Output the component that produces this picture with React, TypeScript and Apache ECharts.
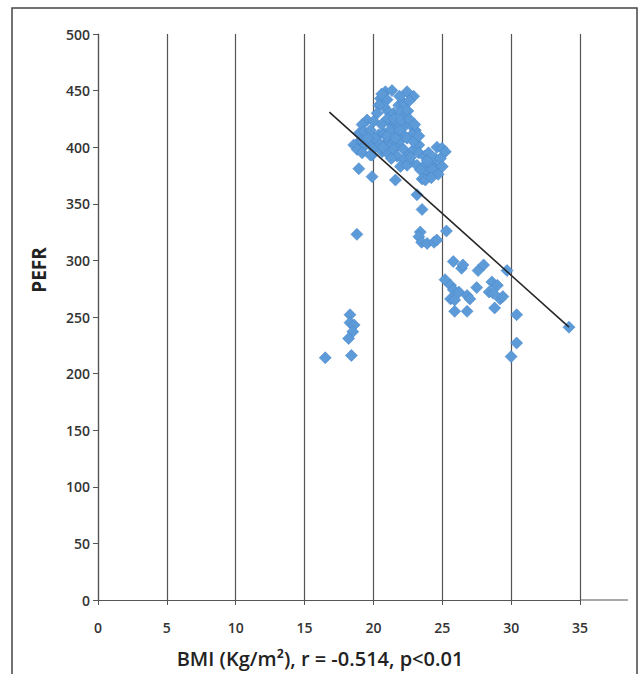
import React, { useEffect, useRef } from "react";
import * as echarts from "echarts";

// BMI (x) and PEFR (y)
const bmi = [
  20.87, 21.35, 22.44, 22.92, 20.51, 20.99, 20.75, 20.39, 21.84, 22.2,
  20.27, 21.11, 21.47, 21.96, 22.32, 19.54, 19.18, 20.02, 18.94, 19.3,
  19.78, 20.39, 20.75, 21.35, 21.72, 21.6, 22.2, 22.68, 23.04, 22.8,
  22.08, 18.82, 19.18, 19.42, 19.78, 20.02, 19.9, 20.99, 21.35, 21.72,
  21.96, 22.44, 20.63, 20.99, 21.47, 22.2, 22.56, 22.92, 23.29, 21.72,
  22.2, 22.68, 23.16, 23.65, 24.13, 24.49, 24.61, 24.98, 25.22, 24.49,
  23.89, 24.25, 23.41, 23.53, 23.77, 18.57, 18.82, 19.18, 19.78, 18.94,
  19.9, 21.6, 23.16, 24.86, 24.86, 21.96, 22.44,
  21.0, 21.5, 22.5, 20.6, 21.2, 22.0, 22.6, 21.9, 20.4, 21.0,
  21.6, 22.9, 23.3, 23.7, 24.0, 23.9, 22.7, 21.3, 20.7, 20.1,
  19.6, 21.9, 22.6, 20.6, 23.0, 23.3, 24.3, 24.7, 25.0, 24.2,
  23.53, 18.8, 23.4, 23.3, 23.5, 23.9, 24.4, 24.6, 25.3, 25.8,
  26.4, 26.5, 27.6, 28.0, 29.7, 25.2, 25.6, 25.8, 25.6, 26.2,
  26.8, 27.0, 25.9, 27.5, 28.6, 29.0, 28.4, 28.7, 29.2, 29.4,
  28.8, 25.9, 26.8, 30.4, 30.4, 30.0, 34.2, 18.3, 18.3, 18.6,
  18.5, 18.2, 18.4, 16.5,
];
const pefr = [
  449, 450, 449, 445, 443, 442, 436, 437, 437, 439,
  430, 431, 430, 431, 427, 424, 420, 423, 412, 414,
  415, 411, 412, 420, 421, 414, 418, 420, 415, 411,
  412, 403, 405, 402, 403, 399, 393, 405, 402, 403,
  406, 408, 396, 395, 398, 398, 393, 398, 402, 392,
  389, 387, 384, 383, 386, 390, 400, 399, 396, 381,
  378, 375, 380, 372, 371, 402, 398, 395, 393, 381,
  374, 371, 358, 383, 390, 383, 384,
  425, 425, 432, 420, 415, 424, 425, 415, 404, 410,
  408, 405, 395, 392, 395, 388, 391, 390, 400, 408,
  408, 445, 441, 447, 420, 410, 380, 376, 383, 373,
  345, 323, 325, 321, 316, 315, 316, 318, 326, 299,
  293, 296, 291, 296, 291, 283, 278, 274, 266, 272,
  269, 266, 265, 276, 281, 278, 272, 271, 266, 268,
  258, 255, 255, 252, 227, 215, 241, 252, 245, 243,
  237, 231, 216, 214,
];

// Linear trend line end points
const trendBmi = [16.8, 34.2];
const trendPefr = [431, 241];

const xTicks = { min: 0, max: 35, step: 5 };
const yTicks = { min: 0, max: 500, step: 50 };

const xTitle = "BMI (Kg/m²), r = -0.514, p<0.01";
const yTitle = "PEFR";

export default function App() {
  const ref = useRef<HTMLDivElement>(null);
  useEffect(() => {
    document.body.style.margin = "0";
    const chart = echarts.init(ref.current as HTMLDivElement, null, { renderer: "svg" });
    const font = "'Open Sans', 'DejaVu Sans', sans-serif";
    chart.setOption({
      animation: false,
      backgroundColor: "#ffffff",
      textStyle: { fontFamily: font },
      title: {
        text: xTitle,
        left: "center",
        top: 648,
        padding: 0,
        textStyle: { fontFamily: font, fontSize: 20, fontWeight: 600, color: "#222", lineHeight: 20 },
      },
      grid: { left: 98, right: 60, top: 34, bottom: 74 },
      xAxis: {
        type: "value",
        min: xTicks.min,
        max: xTicks.max,
        interval: xTicks.step,
        axisLine: { show: true, lineStyle: { color: "#555", width: 1.2 } },
        axisTick: { show: true, length: 5, lineStyle: { color: "#555" } },
        axisLabel: { margin: 20, color: "#333", fontSize: 14, fontWeight: 600, fontFamily: font },
        splitLine: { show: true, lineStyle: { color: "#555", width: 1.2 } },
      },
      yAxis: {
        type: "value",
        min: yTicks.min,
        max: yTicks.max,
        interval: yTicks.step,
        axisLine: { show: true, lineStyle: { color: "#555", width: 1.2 } },
        axisTick: { show: true, length: 5, lineStyle: { color: "#555" } },
        axisLabel: { margin: 8, color: "#333", fontSize: 14, fontWeight: 600, fontFamily: font },
        splitLine: { show: false },
      },
      series: [
        {
          type: "scatter",
          symbol: "diamond",
          symbolSize: 12,
          data: bmi.map((x, i) => [x, pefr[i]]),
          itemStyle: { color: "#5c9ad8", borderColor: "#4a88cc", borderWidth: 0.6, opacity: 1 },
          z: 3,
        },
        {
          type: "line",
          data: trendBmi.map((x, i) => [x, trendPefr[i]]),
          symbol: "none",
          lineStyle: { color: "#262626", width: 1.6 },
          z: 4,
        },
      ],
      graphic: [
        {
          type: "rect",
          shape: { x: 12, y: 8, width: 625, height: 690 },
          style: { fill: "none", stroke: "#444", lineWidth: 1.5 },
          silent: true,
        },
        {
          type: "line",
          shape: { x1: 580, y1: 600, x2: 628, y2: 600 },
          style: { stroke: "#555", lineWidth: 1.2 },
          silent: true,
        },
        {
          type: "text",
          x: 39,
          y: 270,
          rotation: Math.PI / 2,
          style: {
            text: yTitle,
            fontFamily: font,
            fontSize: 19,
            fontWeight: 700,
            fill: "#222",
            align: "center",
            verticalAlign: "middle",
          },
        },
      ],
    });
    return () => chart.dispose();
  }, []);
  return <div ref={ref} style={{ width: 640, height: 674 }} />;
}
